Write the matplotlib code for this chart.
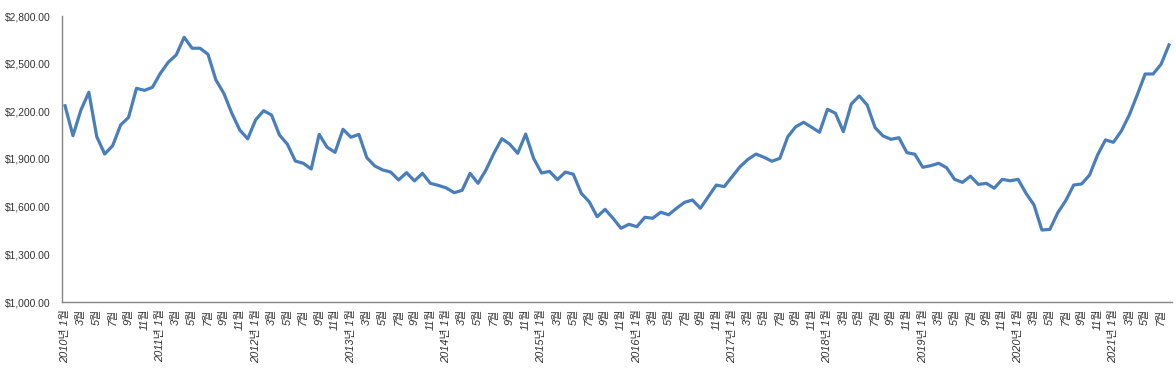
#Import libraries
import numpy as np
import matplotlib.pyplot as plt
from matplotlib.ticker import FuncFormatter

#Monthly price, 2010-01 .. 2021-08
years_start = 2010
prices = [2235, 2047, 2208, 2320, 2040, 1931, 1984, 2114, 2162, 2345, 2332, 2351,
          2439, 2509, 2555, 2666, 2597, 2597, 2559, 2397, 2313, 2188, 2083, 2027,
          2146, 2204, 2177, 2051, 1993, 1887, 1873, 1837, 2055, 1974, 1942, 2087,
          2037, 2055, 1908, 1856, 1831, 1818, 1768, 1814, 1762, 1810, 1747, 1734,
          1718, 1688, 1703, 1810, 1747, 1831, 1936, 2028, 1993, 1936, 2057, 1904,
          1812, 1822, 1770, 1818, 1804, 1684, 1631, 1537, 1583, 1527, 1464, 1489,
          1474, 1533, 1527, 1565, 1549, 1590, 1627, 1642, 1590, 1663, 1736, 1726,
          1789, 1852, 1898, 1931, 1911, 1886, 1904, 2040, 2103, 2131, 2100, 2068,
          2213, 2188, 2072, 2246, 2297, 2240, 2097, 2045, 2024, 2034, 1940, 1930,
          1848, 1858, 1873, 1845, 1772, 1753, 1792, 1740, 1747, 1716, 1772, 1763,
          1772, 1684, 1611, 1453, 1457, 1562, 1638, 1736, 1743, 1799, 1925, 2020,
          2005, 2076, 2177, 2303, 2435, 2435, 2496, 2618]
y_ticks = [1000, 1300, 1600, 1900, 2200, 2500, 2800]

#Category labels every 2 months
x = np.arange(len(prices))
label_pos = x[::2]
labels = []
for i in label_pos:
    year = years_start + i // 12
    month = i % 12 + 1
    if month == 1:
        labels.append(str(year) + '년 ' + str(month) + '월')
    else:
        labels.append(str(month) + '월')

#Create plot
fig = plt.figure(figsize=(11.76, 3.77), dpi=100)
ax = fig.add_axes([62/1176, 1-302/377, 1110/1176, 286/377])
ax.plot(x, prices, color='#4A7EBB', lw=2.3, solid_joinstyle='round')

ax.set_xlim(-0.38, len(prices)-1+0.38)
ax.set_ylim(1000, 2800)
ax.set_yticks(y_ticks)
ax.yaxis.set_major_formatter(FuncFormatter(lambda v, p: '${:,.2f}'.format(v)))
ax.set_xticks(label_pos)
ax.set_xticklabels(labels, rotation=90, ha='center', va='top', style='italic',
                   family=['Liberation Sans', 'Noto Sans CJK KR'], fontsize=7.9, color='#333333')
for t in ax.get_yticklabels():
    t.set_family('Liberation Sans')
    t.set_fontsize(7.4)
    t.set_color('#333333')
ax.tick_params(axis='both', length=0)
ax.tick_params(axis='y', pad=8)
ax.tick_params(axis='x', pad=5)

for s in ['top', 'right']:
    ax.spines[s].set_visible(False)
for s in ['left', 'bottom']:
    ax.spines[s].set_color('#868686')
    ax.spines[s].set_linewidth(1)

fig.savefig('out.png', dpi=100)
